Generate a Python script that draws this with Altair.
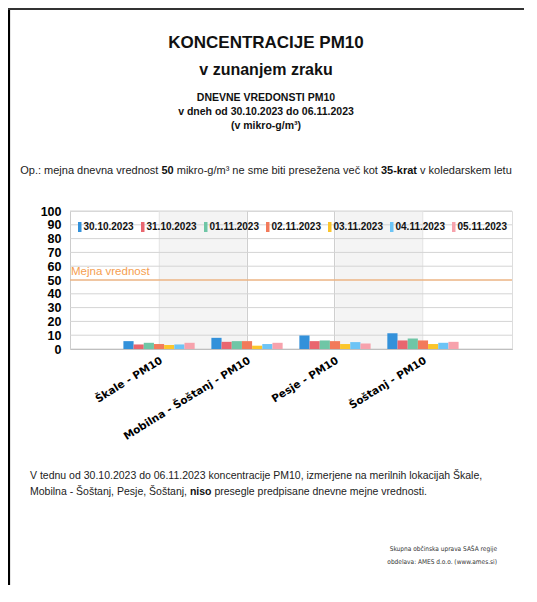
import altair as alt
import pandas as pd

# ---------------- data ----------------
stations = ["Škale - PM10", "Mobilna - Šoštanj - PM10", "Pesje - PM10", "Šoštanj - PM10"]
dates = ["30.10.2023", "31.10.2023", "01.11.2023", "02.11.2023",
         "03.11.2023", "04.11.2023", "05.11.2023"]
colors = ["#3391da", "#e9666f", "#6fc6a6", "#f27a5b", "#fbc52b", "#6cc4f6", "#f7a2ac"]

v_3010 = [5.7, 8.1, 9.8, 11.4]
v_3110 = [3.3, 5.2, 5.7, 6.2]
v_0111 = [4.5, 5.7, 6.2, 7.6]
v_0211 = [3.6, 5.7, 5.7, 6.2]
v_0311 = [2.9, 2.4, 3.6, 3.6]
v_0411 = [3.3, 3.6, 5.0, 4.5]
v_0511 = [4.5, 4.5, 4.0, 5.2]
series = [v_3010, v_3110, v_0111, v_0211, v_0311, v_0411, v_0511]

y_ticks = list(range(0, 101, 10))
limit_value = [50]
limit_label = ["Mejna vrednost"]
band_from = [1, 3]
band_to = [2, 4]

title_lines = ["KONCENTRACIJE PM10", "v zunanjem zraku"]
sub_lines = ["DNEVNE VREDONSTI PM10", "v dneh od 30.10.2023 do 06.11.2023", "(v mikro-g/m³)"]
op_segments = [("Op.: mejna dnevna vrednost ", False), ("50", True),
               (" mikro-g/m³ ne sme biti presežena več kot ", False), ("35-krat", True),
               (" v koledarskem letu", False)]
foot1 = "V tednu od 30.10.2023 do 06.11.2023 koncentracije PM10, izmerjene na merilnih lokacijah Škale,"
foot2_segments = [("Mobilna - Šoštanj, Pesje, Šoštanj, ", False), ("niso", True),
                  (" presegle predpisane dnevne mejne vrednosti.", False)]
credits = ["Skupna občinska uprava SAŠA regije", "obdelava: AMES d.o.o. (www.ames.si)"]

rows = []
for d, vals in zip(dates, series):
    for s, v in zip(stations, vals):
        rows.append({"postaja": s, "datum": d, "vrednost": v})
df = pd.DataFrame(rows)

# ------------- text metrics (Arial / Liberation Sans) -------------
REG = {' ': 278, ',': 278, '.': 278, ':': 278, '-': 333, '/': 278, '(': 333, ')': 333, '³': 333,
       'a': 556, 'b': 556, 'c': 500, 'č': 500, 'd': 556, 'e': 556, 'f': 278, 'g': 556, 'h': 556,
       'i': 222, 'j': 222, 'k': 500, 'l': 222, 'm': 833, 'n': 556, 'o': 556, 'p': 556, 'q': 556,
       'r': 333, 's': 500, 'š': 500, 't': 278, 'u': 556, 'v': 500, 'w': 722, 'x': 500, 'y': 500,
       'z': 500, 'ž': 500, 'A': 667, 'B': 667, 'C': 722, 'D': 722, 'E': 667, 'M': 833, 'N': 722,
       'O': 778, 'P': 667, 'S': 667, 'Š': 667, 'V': 667}
BOLD = {' ': 278, '-': 333, '.': 278, 'a': 556, 'i': 278, 'k': 556, 'n': 611, 'o': 611,
        'r': 389, 's': 556, 't': 333}


def text_width(s, size, bold):
    table = BOLD if bold else REG
    return sum(table.get(ch, 556) for ch in s) * size / 1000.0


def segment_frame(segments, size, x0):
    """Place text segments one after another; leading spaces become an x shift
    because SVG collapses them."""
    out = []
    x = x0
    for txt, b in segments:
        stripped = txt.lstrip(" ")
        lead = text_width(txt[: len(txt) - len(stripped)], size, b)
        out.append({"t": stripped.rstrip(" "), "x": x + lead, "bold": b})
        x += text_width(txt, size, b)
    return pd.DataFrame(out)


W, H = 442, 138
FONT = "Liberation Sans"
y_scale = alt.Scale(domain=[0, 100], nice=False)

# ---------------- chart layers ----------------
bands = alt.Chart(pd.DataFrame({"a": band_from, "b": band_to})).mark_rect(
    color="#f0f0f0", opacity=0.75
).encode(
    x=alt.X("a:Q", scale=alt.Scale(domain=[0, 5], nice=False), axis=None),
    x2="b:Q",
    y=alt.value(0),
    y2=alt.value(H),
)

# horizontal grid drawn as its own layer so it sits behind bars, limit line and legend
grid = alt.Chart(pd.DataFrame({"v": y_ticks})).mark_rule(color="#d4d4d4", strokeWidth=1).encode(
    y=alt.Y("v:Q", scale=y_scale, axis=None))

bars = alt.Chart(df).mark_bar().encode(
    x=alt.X("postaja:N", sort=stations, title=None,
            scale=alt.Scale(paddingInner=0.19, paddingOuter=0.607),
            axis=alt.Axis(labelAngle=328, labelFont="DejaVu Sans", labelFontWeight="bold",
                          labelFontSize=10.5, labelColor="#000", labelPadding=6,
                          ticks=False, grid=True, gridColor="#cfcfcf", gridWidth=1,
                          domainColor="#aaaaaa", labelLimit=300)),
    xOffset=alt.XOffset("datum:N", sort=dates, scale=alt.Scale(paddingInner=0, paddingOuter=0)),
    y=alt.Y("vrednost:Q", title=None, scale=y_scale,
            axis=alt.Axis(values=y_ticks, labelFont=FONT, labelFontWeight="bold",
                          labelFontSize=12.5, labelColor="#000", labelPadding=9,
                          labelOverlap=False, labelBound=False, labelFlush=False,
                          grid=False, ticks=False, domainColor="#cccccc")),
    color=alt.Color("datum:N", sort=dates,
                    scale=alt.Scale(domain=dates, range=colors),
                    legend=alt.Legend(orient="none", legendX=1.5, legendY=11,
                                      direction="horizontal", title=None,
                                      symbolType="M0.3,-1H1V1H0.3Z", symbolSize=100,
                                      symbolStrokeWidth=0, labelFont=FONT,
                                      labelFontSize=10, labelFontWeight="bold",
                                      labelColor="#111", columnPadding=0, labelOffset=2,
                                      padding=0)),
)

limit_df = pd.DataFrame({"v": limit_value, "t": limit_label})
limit_rule = alt.Chart(limit_df).mark_rule(color="#f7a35c", strokeWidth=1.2).encode(
    y=alt.Y("v:Q", scale=y_scale, axis=None))
limit_text = alt.Chart(limit_df).mark_text(
    align="left", baseline="bottom", dy=-3, font=FONT, fontSize=11.5, color="#f59e50"
).encode(x=alt.value(1), y=alt.Y("v:Q", scale=y_scale, axis=None), text="t:N")

# header texts (page coordinates minus plot origin 70, 211)
cx = 196
t1 = alt.Chart(pd.DataFrame({"t": [title_lines[0]]})).mark_text(
    font=FONT, fontSize=17, fontWeight="bold", color="#111", baseline="middle"
).encode(x=alt.value(cx), y=alt.value(-168), text="t:N")
t2 = alt.Chart(pd.DataFrame({"t": [title_lines[1]]})).mark_text(
    font=FONT, fontSize=16, fontWeight="bold", color="#111", baseline="middle"
).encode(x=alt.value(cx), y=alt.value(-141), text="t:N")
sub = alt.Chart(pd.DataFrame({"t": sub_lines, "y": [-113, -99, -85]})).mark_text(
    font=FONT, fontSize=10.5, fontWeight="bold", color="#111", baseline="middle"
).encode(x=alt.value(cx), y=alt.Y("y:Q", scale=None), text="t:N")

OP_SIZE = 11
op_total = sum(text_width(t, OP_SIZE, b) for t, b in op_segments)
op_df = segment_frame(op_segments, OP_SIZE, cx - op_total / 2)
op_reg = alt.Chart(op_df[~op_df.bold]).mark_text(
    font=FONT, fontSize=OP_SIZE, color="#222", align="left", baseline="middle"
).encode(x=alt.X("x:Q", scale=None), y=alt.value(-40), text="t:N")
op_bold = alt.Chart(op_df[op_df.bold]).mark_text(
    font=FONT, fontSize=OP_SIZE, fontWeight="bold", color="#111", align="left", baseline="middle"
).encode(x=alt.X("x:Q", scale=None), y=alt.value(-40), text="t:N")

F_SIZE = 10.5
f1 = alt.Chart(pd.DataFrame({"t": [foot1]})).mark_text(
    font=FONT, fontSize=F_SIZE, color="#222", align="left", baseline="middle"
).encode(x=alt.value(-40), y=alt.value(265), text="t:N")
f2_df = segment_frame(foot2_segments, F_SIZE, -40)
f2_reg = alt.Chart(f2_df[~f2_df.bold]).mark_text(
    font=FONT, fontSize=F_SIZE, color="#222", align="left", baseline="middle"
).encode(x=alt.X("x:Q", scale=None), y=alt.value(281), text="t:N")
f2_bold = alt.Chart(f2_df[f2_df.bold]).mark_text(
    font=FONT, fontSize=F_SIZE, fontWeight="bold", color="#111", align="left", baseline="middle"
).encode(x=alt.X("x:Q", scale=None), y=alt.value(281), text="t:N")

cred = alt.Chart(pd.DataFrame({"t": credits, "y": [338, 351]})).mark_text(
    font="Liberation Sans Narrow, DejaVu Sans Condensed, Liberation Sans", fontSize=6.5,
    color="#333", align="right", baseline="middle"
).encode(x=alt.value(427), y=alt.Y("y:Q", scale=None), text="t:N")

PAD_BOTTOM = 236
# page frame: left and top edges (decoration)
frame = alt.Chart(pd.DataFrame({
    "x": [-61, -62], "x2": [-61, 480], "y": [-203, -202], "y2": [H + PAD_BOTTOM, -202],
    "c": ["#000000", "#333333"],
})).mark_rule(strokeWidth=2.2).encode(
    x=alt.X("x:Q", scale=None), x2="x2:Q",
    y=alt.Y("y:Q", scale=None), y2="y2:Q",
    color=alt.Color("c:N", scale=None),
)

chart = alt.layer(
    bands, grid, bars, limit_rule, limit_text, t1, t2, sub, op_reg, op_bold,
    f1, f2_reg, f2_bold, cred, frame
).resolve_scale(x="independent").resolve_axis(y="independent").properties(
    width=W, height=H,
    padding={"left": 62, "top": 203, "right": 12, "bottom": PAD_BOTTOM},
    autosize=alt.AutoSizeParams(type="none"),
).configure_view(strokeWidth=0).configure(background="white")

chart.save("out.html", embed_options={"renderer": "svg", "actions": False})
